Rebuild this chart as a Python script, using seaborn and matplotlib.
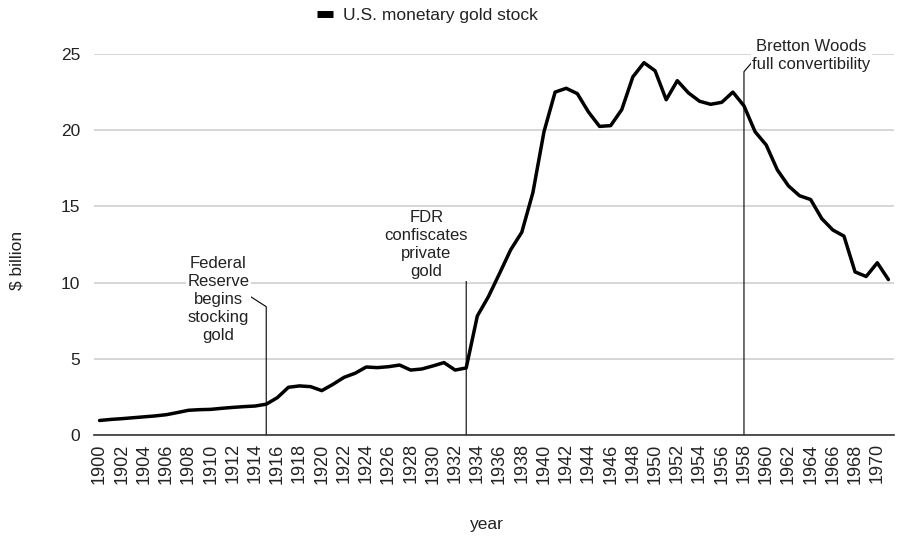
import matplotlib
matplotlib.use("Agg")
import matplotlib.pyplot as plt
import seaborn as sns
import pandas as pd
from matplotlib.lines import Line2D

# U.S. monetary gold stock, $ billion, 1900-1971
years = list(range(1900, 1972))
gold_stock = [
    0.95, 1.02, 1.07, 1.13, 1.19, 1.25, 1.33, 1.47, 1.62, 1.66,
    1.68, 1.75, 1.81, 1.86, 1.90, 2.02, 2.45, 3.13, 3.22, 3.17,
    2.91, 3.32, 3.78, 4.05, 4.46, 4.42, 4.48, 4.59, 4.26, 4.33,
    4.53, 4.75, 4.26, 4.40, 7.81, 9.08, 10.6, 12.15, 13.3, 15.9,
    19.9, 22.5, 22.75, 22.4, 21.2, 20.25, 20.3, 21.35, 23.5, 24.43,
    23.9, 22.0, 23.25, 22.45, 21.9, 21.7, 21.83, 22.5, 21.6, 19.9,
    19.03, 17.4, 16.35, 15.7, 15.45, 14.2, 13.45, 13.05, 10.7, 10.4,
    11.3, 10.2,
]
tick_years = list(range(1900, 1971, 2))
y_ticks = [0, 5, 10, 15, 20, 25]

# Event annotations: label text, event year
event_labels = [
    "Federal\nReserve\nbegins\nstocking\ngold",
    "FDR\nconfiscates\nprivate\ngold",
    "Bretton Woods\nfull convertibility",
]
event_years = [1915, 1933, 1958]

sns.set_theme(style="white")
plt.rcParams["font.family"] = ["Liberation Sans", "DejaVu Sans"]

fig = plt.figure(figsize=(8.98, 5.39), dpi=100)
ax = fig.add_axes([0.1047, 0.193, 0.8908, 0.7068])

df = pd.DataFrame({"year": years, "gold": gold_stock})
sns.lineplot(data=df, x="year", y="gold", color="black", linewidth=2.5,
             ax=ax, legend=False, zorder=4)

ax.set_xlim(1899.5, 1971.5)
ax.set_ylim(0, 25)
ax.set_yticks(y_ticks)
ax.set_xticks(tick_years)
ax.set_xticklabels([str(y) for y in tick_years], rotation=90)
ax.tick_params(axis="x", length=0, pad=6, labelsize=13, colors="#222222")
ax.tick_params(axis="y", length=0, pad=10, labelsize=12.5, colors="#222222")

ax.grid(axis="y", color="#cccccc", linewidth=1.1)
ax.grid(axis="x", visible=False)
for side in ["top", "right", "left"]:
    ax.spines[side].set_visible(False)
ax.spines["bottom"].set_color("#333333")
ax.spines["bottom"].set_linewidth(1.2)
ax.spines["bottom"].set_zorder(5)

ax.set_xlabel("year", fontsize=12.5, color="#222222")
ax.set_ylabel("\\$ billion", fontsize=12.5, color="#222222")
ax.xaxis.set_label_coords(0.491, -0.215)
ax.yaxis.set_label_coords(-0.087, 0.459)

# Annotation leaders: label position, elbow, vertical drop to the axis
label_pos = [(1910.7, 8.92), (1929.4, 12.47), (1964.05, 24.9)]
leader_start = [(1913.5, 9.12), (1931.74, 12.14), (1958.95, 24.65)]
leader_top = [8.42, 11.6, 23.84]
for text, yr, (tx, ty), (sx, sy), top in zip(event_labels, event_years,
                                              label_pos, leader_start, leader_top):
    ax.plot([sx, yr, yr], [sy, top, 0], color="black", linewidth=0.8,
            zorder=3, clip_on=False)
    ax.text(tx, ty, text, ha="center", va="center", fontsize=12,
            color="#222222", linespacing=1.25, zorder=6,
            bbox=dict(facecolor="white", edgecolor="none", pad=1.0))

handle = Line2D([], [], color="black", linewidth=5, solid_capstyle="butt")
fig.legend([handle], ["U.S. monetary gold stock"], loc="center",
           bbox_to_anchor=(0.476, 0.972), frameon=False, fontsize=12.5,
           handlelength=0.9, handletextpad=0.6, labelcolor="#222222")

fig.savefig("out.png", dpi=100)
